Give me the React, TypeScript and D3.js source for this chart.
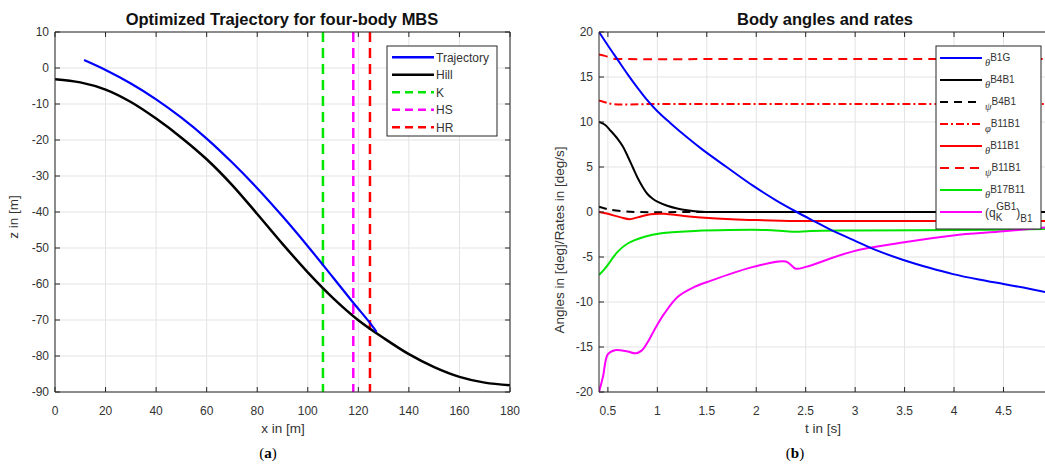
import React from 'react'
import * as d3 from 'd3'

// ---- panel (a): trajectory vs hill ----
const trajX = [11.5, 20, 30, 40, 50, 60, 70, 80, 90, 100, 110, 118, 124.6, 127.2]
const trajZ = [2.2, -0.56, -4.3, -8.7, -13.8, -19.6, -26.2, -33.4, -41.2, -49.5, -58.2, -65.2, -70.8, -73.3]
const hillX = [0, 10, 20, 30, 40, 50, 60, 70, 80, 90, 100, 110, 120, 130, 140, 150, 160, 170, 180]
const hillZ = [-3.1, -4.0, -6.0, -9.45, -14.05, -19.35, -25.35, -32.45, -40.55, -48.85, -56.75, -63.9, -70.05, -75.0, -79.5, -83.1, -85.8, -87.4, -88.1]
const markNames = ['K', 'HS', 'HR']
const markX = [106, 118, 124.6]
const leftXTicks = [0, 20, 40, 60, 80, 100, 120, 140, 160, 180]
const leftYTicks = [10, 0, -10, -20, -30, -40, -50, -60, -70, -80, -90]

// ---- panel (b): body angles and rates ----
const tB1G = [0.41, 0.5, 0.6, 0.7, 0.8, 0.9, 1.0, 1.13, 1.3, 1.46, 1.7, 1.97, 2.2, 2.41, 2.6, 2.74, 3.0, 3.18, 3.48, 3.75, 3.99, 4.25, 4.5, 4.7, 4.93]
const vB1G = [20, 18.5, 16.9, 15.3, 13.8, 12.4, 11.2, 9.9, 8.3, 6.9, 5.0, 2.9, 1.3, 0.0, -1.1, -1.9, -3.2, -4.1, -5.3, -6.2, -6.9, -7.5, -8.0, -8.4, -8.9]
const tB4B1 = [0.41, 0.47, 0.53, 0.6, 0.65, 0.7, 0.75, 0.8, 0.85, 0.9, 0.95, 1.0, 1.1, 1.2, 1.3, 1.45, 2.0, 3.0, 4.0, 4.93]
const vB4B1 = [10.0, 9.7, 9.0, 8.1, 7.3, 6.2, 5.0, 3.8, 2.8, 2.0, 1.5, 1.15, 0.7, 0.4, 0.2, 0.03, 0, 0, 0, 0]
const tPsiB4B1 = [0.41, 0.5, 0.63, 0.8, 1.5, 3.0, 4.93]
const vPsiB4B1 = [0.6, 0.3, 0.1, 0.0, 0, 0, 0]
const tPhiB11B1 = [0.41, 0.47, 0.55, 1.0, 2.0, 3.0, 4.93]
const vPhiB11B1 = [12.4, 12.2, 12.0, 12.0, 12.0, 12.0, 12.0]
const tThB11B1 = [0.41, 0.5, 0.63, 0.72, 0.8, 0.93, 1.07, 1.27, 1.44, 1.75, 2.0, 2.4, 3.0, 4.0, 4.93]
const vThB11B1 = [0.0, -0.2, -0.6, -0.8, -0.6, -0.25, -0.2, -0.45, -0.6, -0.8, -0.9, -1.0, -1.0, -1.0, -1.0]
const tPsiB11B1 = [0.41, 0.47, 0.55, 0.65, 2.0, 3.0, 4.93]
const vPsiB11B1 = [17.5, 17.35, 17.05, 17.0, 17.0, 17.0, 17.0]
const tB17B11 = [0.41, 0.47, 0.53, 0.6, 0.7, 0.87, 1.04, 1.38, 1.72, 2.1, 2.3, 2.4, 2.55, 3.0, 4.0, 4.93]
const vB17B11 = [-7.0, -6.3, -5.4, -4.4, -3.5, -2.75, -2.35, -2.1, -2.0, -2.0, -2.15, -2.2, -2.1, -2.05, -2.0, -1.9]
const tQ = [0.41, 0.45, 0.5, 0.57, 0.7, 0.78, 0.84, 0.9, 0.97, 1.07, 1.21, 1.38, 1.55, 1.97, 2.3, 2.4, 2.5, 2.97, 3.48, 3.99, 4.5, 4.93]
const vQ = [-20, -18.3, -15.8, -15.35, -15.5, -15.7, -15.4, -14.5, -13.1, -11.3, -9.4, -8.3, -7.6, -6.1, -5.5, -6.3, -6.1, -4.4, -3.4, -2.6, -2.15, -1.7]
const rightXTicks = [0.5, 1, 1.5, 2, 2.5, 3, 3.5, 4, 4.5]
const rightYTicks = [20, 15, 10, 5, 0, -5, -10, -15, -20]

const AX = '#262626'
const GRID = '#e3e3e3'
const FONT = '"Liberation Sans", Arial, sans-serif'
const SERIF = '"Liberation Serif", serif'

const zip = (a: number[], b: number[]) => a.map((v, i) => [v, b[i]] as [number, number])

type Series = { pts: [number, number][]; color: string; dash?: string; width?: number }

function Grid({ x, y, xTicks, yTicks }: any) {
  const [x0, x1] = x.range()
  const [y1, y0] = y.range()
  return (
    <g>
      {xTicks.map((t: number) => (
        <line key={'gx' + t} x1={x(t)} x2={x(t)} y1={y0} y2={y1} stroke={GRID} />
      ))}
      {yTicks.map((t: number) => (
        <line key={'gy' + t} x1={x0} x2={x1} y1={y(t)} y2={y(t)} stroke={GRID} />
      ))}
    </g>
  )
}

function Axes({ x, y, xTicks, yTicks, showRight }: any) {
  const [x0, x1] = x.range()
  const [y1, y0] = y.range()
  return (
    <g fontFamily={FONT} fontSize={12} fill="#333">
      <line x1={x0} x2={x0} y1={y0} y2={y1} stroke={AX} />
      <line x1={x0} x2={x1} y1={y1} y2={y1} stroke={AX} />
      <line x1={x0} x2={x1} y1={y0} y2={y0} stroke={AX} />
      {showRight && <line x1={x1} x2={x1} y1={y0} y2={y1} stroke={AX} />}
      {xTicks.map((t: number) => (
        <g key={'tx' + t}>
          <line x1={x(t)} x2={x(t)} y1={y1} y2={y1 - 5} stroke={AX} />
          <line x1={x(t)} x2={x(t)} y1={y0} y2={y0 + 5} stroke={AX} />
          <text x={x(t)} y={y1 + 23} textAnchor="middle">{String(t)}</text>
        </g>
      ))}
      {yTicks.map((t: number) => (
        <g key={'ty' + t}>
          <line x1={x0} x2={x0 + 5} y1={y(t)} y2={y(t)} stroke={AX} />
          {showRight && <line x1={x1} x2={x1 - 5} y1={y(t)} y2={y(t)} stroke={AX} />}
          <text x={x0 - 6} y={y(t) + 4} textAnchor="end">{t}</text>
        </g>
      ))}
    </g>
  )
}

function Lines({ series, x, y }: { series: Series[]; x: any; y: any }) {
  const line = d3.line<[number, number]>()
    .x(d => x(d[0]))
    .y(d => y(d[1]))
    .curve(d3.curveCatmullRom.alpha(0.5))
  return (
    <g>
      {series.map((s, i) => (
        <path key={i} d={line(s.pts) || ''} fill="none" stroke={s.color}
          strokeWidth={s.width || 2} strokeDasharray={s.dash} strokeLinejoin="round" />
      ))}
    </g>
  )
}

export default function App() {
  // panel (a)
  const xa = d3.scaleLinear().domain([0, 180]).range([55, 510])
  const ya = d3.scaleLinear().domain([-90, 10]).range([392, 32])
  const aSeries: Series[] = [
    { pts: zip(hillX, hillZ), color: '#000', width: 2.5 },
    { pts: zip(trajX, trajZ), color: '#0000ff', width: 2.2 },
  ]
  const markColors = ['#00e600', '#ff00ff', '#ff0000']

  // panel (b)
  const xb = d3.scaleLinear().domain([0.41, 4.93]).range([599, 1046])
  const yb = d3.scaleLinear().domain([-20, 20]).range([392, 32])
  const bSeries: Series[] = [
    { pts: zip(tB4B1, vB4B1), color: '#000' },
    { pts: zip(tPsiB4B1, vPsiB4B1), color: '#000', dash: '8,6' },
    { pts: zip(tThB11B1, vThB11B1), color: '#ff0000' },
    { pts: zip(tPhiB11B1, vPhiB11B1), color: '#ff0000', dash: '8,3,2,3' },
    { pts: zip(tPsiB11B1, vPsiB11B1), color: '#ff0000', dash: '9,6' },
    { pts: zip(tB17B11, vB17B11), color: '#00e600' },
    { pts: zip(tQ, vQ), color: '#ff00ff' },
    { pts: zip(tB1G, vB1G), color: '#0000ff' },
  ]

  const legA = [
    { name: 'Trajectory', color: '#0000ff', dash: undefined as string | undefined },
    { name: 'Hill', color: '#000', dash: undefined as string | undefined },
    ...markNames.map((n, i) => ({ name: n, color: markColors[i], dash: '8,5' })),
  ]
  const legB: { sup: string; greek: string; color: string; dash?: string }[] = [
    { greek: 'θ', sup: 'B1G', color: '#0000ff' },
    { greek: 'θ', sup: 'B4B1', color: '#000' },
    { greek: 'ψ', sup: 'B4B1', color: '#000', dash: '8,6' },
    { greek: 'φ', sup: 'B11B1', color: '#ff0000', dash: '8,3,2,3' },
    { greek: 'θ', sup: 'B11B1', color: '#ff0000' },
    { greek: 'ψ', sup: 'B11B1', color: '#ff0000', dash: '9,6' },
    { greek: 'θ', sup: 'B17B11', color: '#00e600' },
  ]

  return (
    <div style={{ position: 'absolute', left: 0, top: 0 }}>
      <svg width={1045} height={466} style={{ display: 'block', background: '#fff' }}>
        <defs>
          <clipPath id="clipA"><rect x={55} y={32} width={455} height={360} /></clipPath>
          <clipPath id="clipB"><rect x={599} y={32} width={447} height={360} /></clipPath>
        </defs>

        {/* ---------- (a) ---------- */}
        <Grid x={xa} y={ya} xTicks={leftXTicks} yTicks={leftYTicks} />
        <g clipPath="url(#clipA)">
          {markX.map((m, i) => (
            <line key={m} x1={xa(m)} x2={xa(m)} y1={ya(10)} y2={ya(-90)}
              stroke={markColors[i]} strokeWidth={2.5} strokeDasharray="10,6" />
          ))}
          <Lines series={aSeries} x={xa} y={ya} />
        </g>
        <Axes x={xa} y={ya} xTicks={leftXTicks} yTicks={leftYTicks} showRight />
        <text x={282} y={25} textAnchor="middle" fontFamily={FONT} fontWeight="bold" fontSize={16.5} fill="#111">
          Optimized Trajectory for four-body MBS
        </text>
        <text x={283} y={433} textAnchor="middle" fontFamily={FONT} fontSize={13.5} fill="#333">x in [m]</text>
        <text transform="translate(18,217) rotate(-90)" textAnchor="middle" fontFamily={FONT} fontSize={13.5} fill="#333">z in [m]</text>
        <g fontFamily={FONT} fontSize={12} fill="#333">
          <rect x={387} y={46} width={110} height={90} fill="#fff" stroke={AX} />
          {legA.map((l, i) => {
            const yy = 57.3 + i * 17.5
            return (
              <g key={l.name}>
                <line x1={392} x2={434} y1={yy} y2={yy} stroke={l.color} strokeWidth={2.5} strokeDasharray={l.dash} />
                <text x={436} y={yy + 4.5}>{l.name}</text>
              </g>
            )
          })}
        </g>
        <text x={268} y={458} textAnchor="middle" fontFamily={SERIF} fontSize={15} fill="#000">
          (<tspan fontWeight="bold">a</tspan>)
        </text>

        {/* ---------- (b) ---------- */}
        <Grid x={xb} y={yb} xTicks={rightXTicks} yTicks={rightYTicks} />
        <g clipPath="url(#clipB)">
          <Lines series={bSeries} x={xb} y={yb} />
        </g>
        <Axes x={xb} y={yb} xTicks={rightXTicks} yTicks={rightYTicks} showRight={false} />
        <text x={825} y={25} textAnchor="middle" fontFamily={FONT} fontWeight="bold" fontSize={16.5} fill="#111">
          Body angles and rates
        </text>
        <text x={823} y={433} textAnchor="middle" fontFamily={FONT} fontSize={13.5} fill="#333">t in [s]</text>
        <text transform="translate(564,240) rotate(-90)" textAnchor="middle" fontFamily={FONT} fontSize={13.5} fill="#333">
          Angles in [deg]/Rates in [deg/s]
        </text>
        <g fontFamily={FONT} fill="#333">
          <rect x={936} y={46} width={105} height={183} fill="#fff" stroke={AX} />
          {legB.map((l, i) => {
            const yy = 58 + i * 22
            return (
              <g key={i}>
                <line x1={940} x2={982} y1={yy} y2={yy} stroke={l.color} strokeWidth={2.2} strokeDasharray={l.dash} />
                <text x={985}>
                  <tspan y={yy + 8} fontSize={10.5} fontStyle="italic" fontFamily={SERIF}>{l.greek}</tspan>
                  <tspan y={yy + 3} fontSize={10}>{l.sup}</tspan>
                </text>
              </g>
            )
          })}
          {(() => {
            const yy = 58 + 7 * 22
            return (
              <g>
                <line x1={940} x2={982} y1={yy} y2={yy} stroke="#ff00ff" strokeWidth={2.2} />
                <text x={985}>
                  <tspan y={yy + 5} fontSize={12}>(q</tspan>
                  <tspan y={yy + 9} fontSize={10}>K</tspan>
                  <tspan y={yy - 2} dx={-6} fontSize={10}>GB1</tspan>
                  <tspan y={yy + 5} fontSize={12}>)</tspan>
                  <tspan y={yy + 10} fontSize={10}>B1</tspan>
                </text>
              </g>
            )
          })()}
        </g>
        <text x={795} y={458} textAnchor="middle" fontFamily={SERIF} fontSize={15} fill="#000">
          (<tspan fontWeight="bold">b</tspan>)
        </text>
      </svg>
    </div>
  )
}
